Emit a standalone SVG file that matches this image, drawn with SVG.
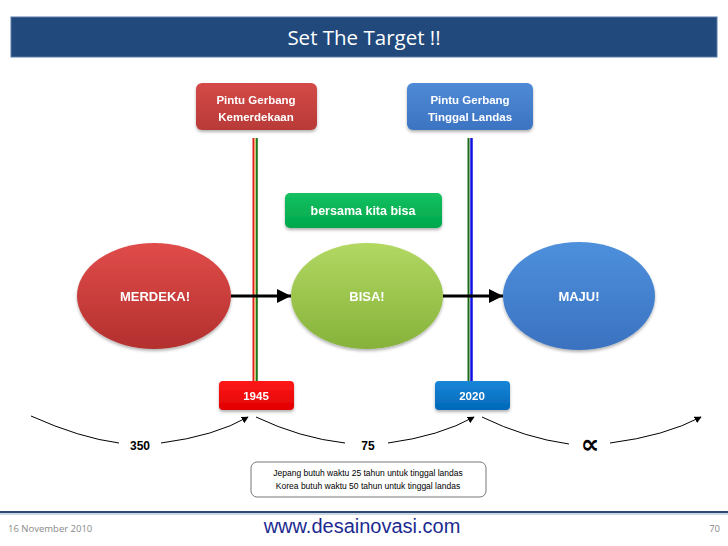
<svg xmlns="http://www.w3.org/2000/svg" width="728" height="546" viewBox="0 0 728 546">
<style>
.lbl{font-family:"Liberation Sans","DejaVu Sans",sans-serif;font-weight:bold;fill:#fff;text-anchor:middle}
.num{font-family:"Liberation Sans","DejaVu Sans",sans-serif;font-weight:bold;fill:#000;text-anchor:middle}
.curve{fill:none;stroke:#000;stroke-width:1}
.note{font-family:"Liberation Sans","DejaVu Sans",sans-serif;font-size:8.5px;fill:#000;text-anchor:middle}
</style>
<defs>
<linearGradient id="gRed" x1="0" y1="0" x2="0" y2="1"><stop offset="0" stop-color="#e04c4a"/><stop offset="1" stop-color="#b3302e"/></linearGradient>
<linearGradient id="gGreen" x1="0" y1="0" x2="0" y2="1"><stop offset="0" stop-color="#b2d862"/><stop offset="1" stop-color="#86b23a"/></linearGradient>
<linearGradient id="gBlue" x1="0" y1="0" x2="0" y2="1"><stop offset="0" stop-color="#4e90dc"/><stop offset="1" stop-color="#3a72c0"/></linearGradient>
<linearGradient id="gBoxRed" x1="0" y1="0" x2="0" y2="1"><stop offset="0" stop-color="#d44a47"/><stop offset="1" stop-color="#b83a38"/></linearGradient>
<linearGradient id="gBoxBlue" x1="0" y1="0" x2="0" y2="1"><stop offset="0" stop-color="#4f8ad6"/><stop offset="1" stop-color="#3c74c2"/></linearGradient>
<linearGradient id="gBoxGreen" x1="0" y1="0" x2="0" y2="1"><stop offset="0" stop-color="#14c060"/><stop offset="1" stop-color="#00a84c"/></linearGradient>
<linearGradient id="g1945" x1="0" y1="0" x2="0" y2="1"><stop offset="0" stop-color="#ff1a1a"/><stop offset="1" stop-color="#e00000"/></linearGradient>
<linearGradient id="g2020" x1="0" y1="0" x2="0" y2="1"><stop offset="0" stop-color="#1a86d8"/><stop offset="1" stop-color="#0068b8"/></linearGradient>
<marker id="ah" viewBox="0 0 10 10" refX="9" refY="5" markerWidth="7" markerHeight="7" orient="auto" markerUnits="userSpaceOnUse"><path d="M0,0 L10,5 L0,10 z" fill="#000"/></marker>
<marker id="big" viewBox="0 0 10 10" refX="10" refY="5" markerWidth="16" markerHeight="14" orient="auto" markerUnits="userSpaceOnUse"><path d="M0,0 L10,5 L0,10 z" fill="#000"/></marker>
<filter id="sh" x="-10%" y="-10%" width="120%" height="130%"><feDropShadow dx="0" dy="2" stdDeviation="1.5" flood-color="#000" flood-opacity="0.3"/></filter>
</defs>
<rect width="728" height="546" fill="#fff"/>
<g id="title">
<rect x="11" y="17" width="706" height="40" fill="#21497c" stroke="#5a7aa8" stroke-width="1"/>
<text x="364" y="45" font-family="'Open Sans','Liberation Sans',sans-serif" font-size="20.5" fill="#fff" text-anchor="middle">Set The Target !!</text>
</g>
<g id="gate-lines">
<line x1="253.5" y1="138" x2="253.5" y2="381" stroke="#e02020" stroke-width="2"/>
<line x1="255" y1="138" x2="255" y2="381" stroke="#f0b040" stroke-width="1"/>
<line x1="256.8" y1="138" x2="256.8" y2="381" stroke="#1a7a1a" stroke-width="2"/>
<line x1="468.5" y1="138" x2="468.5" y2="381" stroke="#1a6a1a" stroke-width="2"/>
<line x1="471.5" y1="138" x2="471.5" y2="381" stroke="#1010e0" stroke-width="2.5"/>
</g>
<g id="connectors">
<line x1="231" y1="296" x2="291" y2="296" stroke="#000" stroke-width="3" marker-end="url(#big)"/>
<line x1="443" y1="296" x2="503" y2="296" stroke="#000" stroke-width="3" marker-end="url(#big)"/>
<path class="curve" d="M31,416 Q80,438 119,443"/>
<path class="curve" d="M161,443 Q215,436 248,417" marker-end="url(#ah)"/>
<path class="curve" d="M256,417 Q300,438 345,443"/>
<path class="curve" d="M388,443 Q440,436 474,417" marker-end="url(#ah)"/>
<path class="curve" d="M482,417 Q525,438 569,444"/>
<path class="curve" d="M610,443 Q665,436 701,417" marker-end="url(#ah)"/>
</g>
<g id="gate-kemerdekaan" filter="url(#sh)">
<rect x="196" y="83" width="121" height="47" rx="6" fill="url(#gBoxRed)"/>
<text class="lbl" x="256" y="104" font-size="11.5">Pintu Gerbang</text>
<text class="lbl" x="256" y="121" font-size="11.5">Kemerdekaan</text>
</g>
<g id="gate-tinggal-landas" filter="url(#sh)">
<rect x="407" y="83" width="126" height="47" rx="6" fill="url(#gBoxBlue)"/>
<text class="lbl" x="470" y="104" font-size="11.5">Pintu Gerbang</text>
<text class="lbl" x="470" y="121" font-size="11.5">Tinggal Landas</text>
</g>
<g id="bersama" filter="url(#sh)">
<rect x="285" y="193" width="157" height="35" rx="5" fill="url(#gBoxGreen)"/>
<text class="lbl" x="363" y="215" font-size="12.5" font-weight="normal">bersama kita bisa</text>
</g>
<g id="merdeka" filter="url(#sh)">
<ellipse cx="154" cy="296" rx="77" ry="53" fill="url(#gRed)"/>
<text class="lbl" x="155" y="301" font-size="13">MERDEKA!</text>
</g>
<g id="bisa" filter="url(#sh)">
<ellipse cx="367" cy="296" rx="76" ry="53" fill="url(#gGreen)"/>
<text class="lbl" x="367" y="301" font-size="13">BISA!</text>
</g>
<g id="maju" filter="url(#sh)">
<ellipse cx="579" cy="296" rx="76" ry="54" fill="url(#gBlue)"/>
<text class="lbl" x="579" y="301" font-size="13">MAJU!</text>
</g>
<g id="year-1945" filter="url(#sh)">
<rect x="219" y="381" width="75" height="29" rx="4" fill="url(#g1945)"/>
<text class="lbl" x="256" y="400" font-size="11.5">1945</text>
</g>
<g id="year-2020" filter="url(#sh)">
<rect x="435" y="381" width="75" height="29" rx="4" fill="url(#g2020)"/>
<text class="lbl" x="472" y="400" font-size="11.5">2020</text>
</g>
<g id="labels">
<text class="num" x="140" y="450" font-size="12">350</text>
<text class="num" x="368" y="450" font-size="12">75</text>
<text class="num" x="590" y="453" style="font-size:26px;font-family:'DejaVu Sans',sans-serif">∝</text>
</g>
<g id="note">
<rect x="251" y="462" width="235" height="35" rx="6" fill="#fff" stroke="#777" stroke-width="1"/>
<text class="note" x="368" y="476">Jepang butuh waktu 25 tahun untuk tinggal landas</text>
<text class="note" x="368" y="489">Korea butuh waktu 50 tahun untuk tinggal landas</text>
</g>
<g id="footer">
<line x1="0" y1="512" x2="728" y2="512" stroke="#2b4a72" stroke-width="2"/>
<line x1="0" y1="514" x2="728" y2="514" stroke="#9ab0cc" stroke-width="1"/>
<text x="8" y="532" font-family="'Open Sans','Liberation Sans',sans-serif" font-size="9.5" fill="#8a8a8a">16 November 2010</text>
<text x="362" y="533" font-family="'Liberation Sans',Arial,sans-serif" font-size="20" fill="#1c2a90" text-anchor="middle">www.desainovasi.com</text>
<text x="720" y="532" font-family="'Open Sans','Liberation Sans',sans-serif" font-size="9.5" fill="#8a8a8a" text-anchor="end">70</text>
</g>
</svg>
